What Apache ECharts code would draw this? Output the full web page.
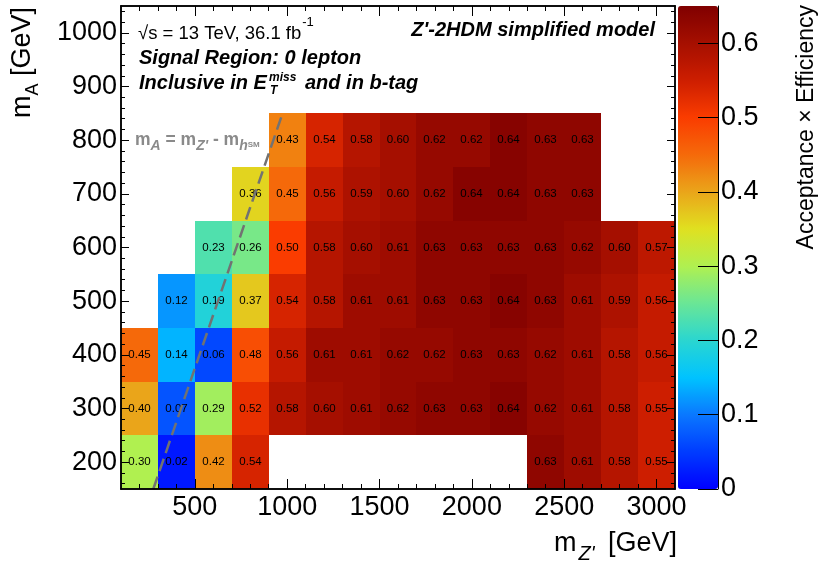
<!DOCTYPE html>
<html>
<head>
<meta charset="utf-8">
<script src="https://cdn.jsdelivr.net/npm/echarts@6/dist/echarts.min.js"></script>
<style>
  html, body { margin: 0; padding: 0; background: #fff; }
  #chart { width: 822px; height: 565px; }
</style>
</head>
<body>
<div id="chart"></div>
<script>
// bin centres
var mZpBins = [200, 400, 600, 800, 1000, 1200, 1400, 1600, 1800, 2000, 2200, 2400, 2600, 2800, 3000];
var mABins = [200, 300, 400, 500, 600, 700, 800];

// acceptance x efficiency, one row per m_A (null = no sample)
var accMA200 = [0.30, 0.02, 0.42, 0.54, null, null, null, null, null, null, null, 0.63, 0.61, 0.58, 0.55];
var accMA300 = [0.40, 0.07, 0.29, 0.52, 0.58, 0.60, 0.61, 0.62, 0.63, 0.63, 0.64, 0.62, 0.61, 0.58, 0.55];
var accMA400 = [0.45, 0.14, 0.06, 0.48, 0.56, 0.61, 0.61, 0.62, 0.62, 0.63, 0.63, 0.62, 0.61, 0.58, 0.56];
var accMA500 = [null, 0.12, 0.19, 0.37, 0.54, 0.58, 0.61, 0.61, 0.63, 0.63, 0.64, 0.63, 0.61, 0.59, 0.56];
var accMA600 = [null, null, 0.23, 0.26, 0.50, 0.58, 0.60, 0.61, 0.63, 0.63, 0.63, 0.63, 0.62, 0.60, 0.57];
var accMA700 = [null, null, null, 0.36, 0.45, 0.56, 0.59, 0.60, 0.62, 0.64, 0.64, 0.63, 0.63, null, null];
var accMA800 = [null, null, null, null, 0.43, 0.54, 0.58, 0.60, 0.62, 0.62, 0.64, 0.63, 0.63, null, null];

// kinematic line m_A = m_Z' - m_h
var diagMZp = [275, 975];
var diagMA = [150, 850];

// ticks
var majorX = [500, 1000, 1500, 2000, 2500, 3000];
var minorX = [200, 300, 400, 600, 700, 800, 900, 1100, 1200, 1300, 1400, 1600, 1700, 1800, 1900,
              2100, 2200, 2300, 2400, 2600, 2700, 2800, 2900];
var majorY = [200, 300, 400, 500, 600, 700, 800, 900, 1000];
var minorY = [160, 180, 220, 240, 260, 280, 320, 340, 360, 380, 420, 440, 460, 480, 520, 540, 560, 580,
              620, 640, 660, 680, 720, 740, 760, 780, 820, 840, 860, 880, 920, 940, 960, 980, 1020, 1040];
var barTicks = [0, 0.1, 0.2, 0.3, 0.4, 0.5, 0.6];

var palette = ['#0000ff', '#003cff', '#0a78ff', '#00c3ff', '#2ad6d0', '#6ae696', '#b0f050',
               '#e0e020', '#eaa51a', '#f5690a', '#fa3c00', '#cd1e00', '#a50f00', '#800000'];

var FONT = 'Liberation Sans';
var binW = 200, binH = 100;

var rows = [accMA200, accMA300, accMA400, accMA500, accMA600, accMA700, accMA800];
var cells = [];
rows.forEach(function(row, i) {
    row.forEach(function(v, j) {
        if (v !== null) cells.push([mZpBins[j], mABins[i], v]);
    });
});
var diagData = diagMZp.map(function(x, i) { return [x, diagMA[i]]; });

function plain(v) { return String(v); }

function frameAxis(position, min, max, ticks, tickLen, labels, margin) {
    return {
        type: 'value', gridIndex: 0, position: position, min: min, max: max, z: 10,
        axisLine: { show: true, onZero: false, lineStyle: { color: '#000', width: 1.5 } },
        axisTick: { show: true, inside: true, length: tickLen, customValues: ticks,
                    lineStyle: { color: '#000', width: 1 } },
        axisLabel: labels ? { show: true, customValues: labels, fontSize: 27, fontFamily: FONT,
                              color: '#000', margin: margin, formatter: plain } : { show: false },
        splitLine: { show: false }
    };
}

function renderCell(params, api) {
    var x = api.value(0), y = api.value(1), v = api.value(2);
    var p0 = api.coord([x - binW / 2, y + binH / 2]);
    var p1 = api.coord([x + binW / 2, y - binH / 2]);
    var x0 = Math.round(p0[0]), y0 = Math.round(p0[1]);
    return {
        type: 'rect',
        shape: { x: x0, y: y0, width: Math.round(p1[0]) - x0, height: Math.round(p1[1]) - y0 },
        style: { fill: api.visual('color') },
        textContent: { style: { text: v.toFixed(2), fill: '#000', fontSize: 11.5, fontFamily: FONT } },
        textConfig: { position: 'inside' }
    };
}

var chart = echarts.init(document.getElementById('chart'));

option = {
    animation: false,
    grid: [
        { left: 121, top: 6, width: 554, height: 483 },
        { left: 678, top: 6, width: 40, height: 483 }
    ],
    xAxis: [
        frameAxis('bottom', 100, 3100, majorX, 10, majorX, 5),
        frameAxis('bottom', 100, 3100, minorX, 5),
        frameAxis('top', 100, 3100, majorX, 10),
        frameAxis('top', 100, 3100, minorX, 5),
        { type: 'value', gridIndex: 1, min: 0, max: 1, show: false }
    ],
    yAxis: [
        frameAxis('left', 150, 1050, majorY, 8, majorY, 4),
        frameAxis('left', 150, 1050, minorY, 4),
        frameAxis('right', 150, 1050, majorY, 8),
        frameAxis('right', 150, 1050, minorY, 4),
        {
            type: 'value', gridIndex: 1, position: 'right', min: 0, max: 0.65, z: 10,
            axisLine: { show: true, onZero: false, lineStyle: { color: '#000', width: 1 } },
            axisTick: { show: true, inside: true, length: 20, customValues: barTicks,
                        lineStyle: { color: '#000', width: 1 } },
            axisLabel: { customValues: barTicks, fontSize: 27, fontFamily: FONT, color: '#000', margin: 3 },
            splitLine: { show: false }
        }
    ],
    visualMap: {
        type: 'continuous', seriesIndex: 0, dimension: 2, min: 0, max: 0.65,
        calculable: false, hoverLink: false, left: 678, top: 6, padding: 0,
        itemWidth: 40, itemHeight: 483,
        inRange: { color: palette }
    },
    series: [
        {
            type: 'custom', xAxisIndex: 0, yAxisIndex: 0, renderItem: renderCell,
            data: cells, encode: { x: 0, y: 1 }, z: 2
        },
        {
            type: 'line', xAxisIndex: 0, yAxisIndex: 0, data: diagData, symbol: 'none', silent: true,
            lineStyle: { color: '#727272', width: 2.5, type: [13, 6] }, z: 5
        }
    ],
    graphic: [
        { type: 'text', x: 138, y: 33.5, style: {
            text: '√s = 13 TeV, 36.1 fb{s|-1}', fontSize: 18.5, fontFamily: FONT, fill: '#000',
            verticalAlign: 'middle',
            rich: { s: { fontSize: 13, fontFamily: FONT, fill: '#000', padding: [0, 0, 22, 1] } } } },
        { type: 'text', x: 139, y: 58.7, style: {
            text: 'Signal Region: 0 lepton', fontSize: 20, fontFamily: FONT, fontWeight: 'bold',
            fontStyle: 'italic', fill: '#000', verticalAlign: 'middle' } },
        { type: 'text', x: 139, y: 83, style: {
            text: 'Inclusive in E', fontSize: 20, fontFamily: FONT, fontWeight: 'bold',
            fontStyle: 'italic', fill: '#000', verticalAlign: 'middle' } },
        { type: 'text', x: 269, y: 77.4, style: {
            text: 'miss', fontSize: 12, fontFamily: FONT, fontWeight: 'bold',
            fontStyle: 'italic', fill: '#000', verticalAlign: 'middle' } },
        { type: 'text', x: 270, y: 90.8, style: {
            text: 'T', fontSize: 12, fontFamily: FONT, fontWeight: 'bold',
            fontStyle: 'italic', fill: '#000', verticalAlign: 'middle' } },
        { type: 'text', x: 305, y: 83, style: {
            text: 'and in b-tag', fontSize: 20, fontFamily: FONT, fontWeight: 'bold',
            fontStyle: 'italic', fill: '#000', verticalAlign: 'middle' } },
        { type: 'text', x: 655, y: 30, style: {
            text: "Z'-2HDM simplified model", fontSize: 20, fontFamily: FONT, fontWeight: 'bold',
            fontStyle: 'italic', fill: '#000', align: 'right', verticalAlign: 'middle' } },
        { type: 'text', x: 135, y: 140.6, z: 10, style: {
            text: "{m|m}{s|A}{m| = m}{s|Z'}{m| - m}{s|h}{u|SM}", verticalAlign: 'middle',
            rich: {
                m: { fontSize: 17.5, fontFamily: FONT, fontWeight: 'bold', fill: '#8a8a8a' },
                s: { fontSize: 14, fontFamily: FONT, fontWeight: 'bold', fontStyle: 'italic',
                     fill: '#8a8a8a', padding: [12, 0, 0, 0] },
                u: { fontSize: 8, fontFamily: FONT, fontWeight: 'bold', fill: '#8a8a8a',
                     padding: [8, 0, 0, 0] }
            } } },
        { type: 'text', x: 23, y: 7, rotation: Math.PI / 2, style: {
            text: '{t|m}{s|A}{t| [GeV]}', align: 'right', verticalAlign: 'middle',
            rich: {
                t: { fontSize: 27, fontFamily: FONT, fill: '#000' },
                s: { fontSize: 18, fontFamily: FONT, fill: '#000', padding: [20, 0, 0, 0] }
            } } },
        { type: 'text', x: 677, y: 543.2, style: {
            text: "{t|m}{s|Z'}{t| [GeV]}", align: 'right', verticalAlign: 'middle',
            rich: {
                t: { fontSize: 27, fontFamily: FONT, fill: '#000' },
                s: { fontSize: 20, fontFamily: FONT, fontStyle: 'italic', fill: '#000', padding: [22, 6, 0, 2] }
            } } },
        { type: 'text', x: 807, y: 5, rotation: Math.PI / 2, style: {
            text: 'Acceptance × Efficiency', fontSize: 23, fontFamily: FONT, fill: '#000',
            align: 'right', verticalAlign: 'middle' } }
    ]
};

chart.setOption(option);
</script>
</body>
</html>
